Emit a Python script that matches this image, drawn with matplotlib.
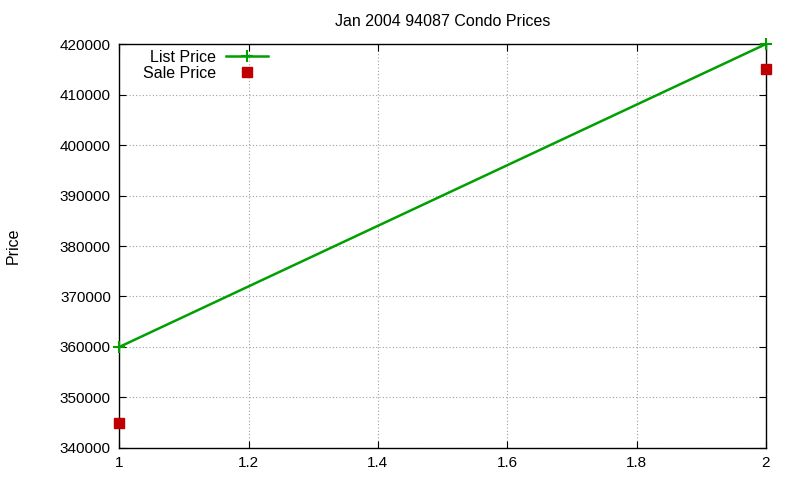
import matplotlib
matplotlib.use('Agg')
import matplotlib.pyplot as plt

x = [1, 2]
list_price = [360000, 420000]
sale_price = [345000, 415000]
yticks = [340000, 350000, 360000, 370000, 380000, 390000, 400000, 410000, 420000]
xticks = [1, 1.2, 1.4, 1.6, 1.8, 2]

plt.rcParams['font.family'] = ['Liberation Sans', 'DejaVu Sans']
plt.rcParams['font.size'] = 10.5

fig = plt.figure(figsize=(8, 4.8), dpi=100)
ax = fig.add_axes([0.149, 0.0667, 0.8085, 0.8416])

ax.plot(x, list_price, color='#00a000', lw=1.8, marker='+', ms=8, mew=1.5,
        label='List Price', clip_on=False, zorder=3)
ax.plot(x, sale_price, ls='none', color='#c00000', marker='s', ms=6.5,
        label='Sale Price', clip_on=False, zorder=3)

ax.set_xlim(1, 2)
ax.set_ylim(340000, 420000)
ax.set_xticks(xticks)
ax.set_xticklabels(['1', '1.2', '1.4', '1.6', '1.8', '2'])
ax.set_yticks(yticks)
ax.set_yticklabels([str(v) for v in yticks])
ax.tick_params(direction='in', top=True, right=True, length=5, pad=6,
               labelsize=11)
ax.grid(True, color='#a0a0a0', ls=(0, (1, 2)), lw=0.8)
for s in ax.spines.values():
    s.set_linewidth(1.0)

ax.set_title('Jan 2004 94087 Condo Prices', fontsize=11.5, pad=13)
ax.set_ylabel('Price', fontsize=11.5, labelpad=28)

ax.legend(loc='upper left', bbox_to_anchor=(0.020, 1.013), frameon=False,
          markerfirst=False, handlelength=2.6, handletextpad=0.6,
          labelspacing=0.05, fontsize=11.5, borderaxespad=0.3)

fig.savefig('out.png', dpi=100)
